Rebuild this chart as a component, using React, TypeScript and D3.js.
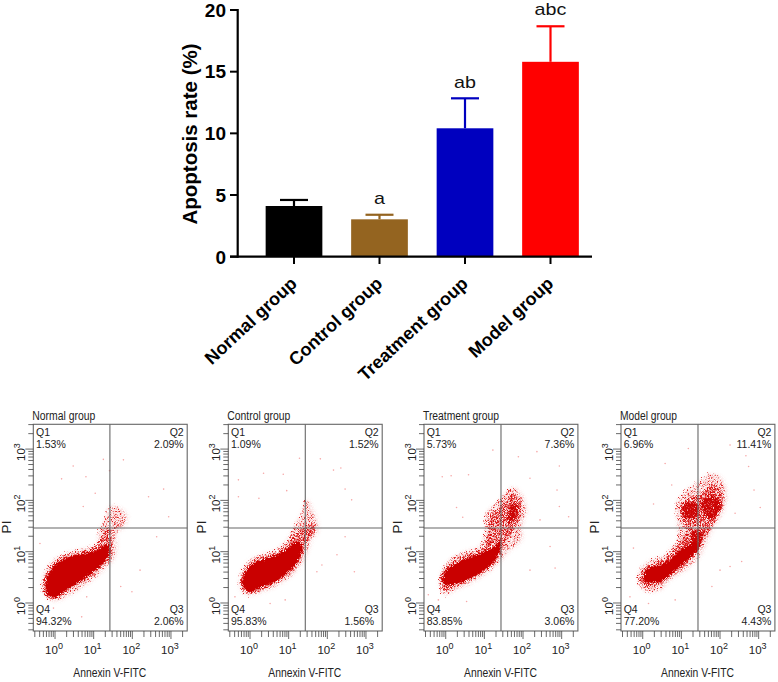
import React from "react";
import * as d3 from "d3";

// ---------- bar chart data ----------
const groups = ["Normal group", "Control group", "Treatment group", "Model group"];
const rates = [4.11, 3.03, 10.41, 15.8];
const errorTops = [4.6, 3.4, 12.84, 18.68];
const barColors = ["#000000", "#946420", "#0000bf", "#ff0000"];
const letters = ["", "a", "ab", "abc"];
const rateTicks = [0, 5, 10, 15, 20];

// ---------- flow cytometry data (log10 units, outlines of the point clouds) ----------
type P = [number, number];
const normalSparse: P[] = [[-.32,.25],[-.32,.45],[-.17,.71],[.04,.87],[.43,1],[.86,1.07],[1.08,1.16],[1.15,1.39],[1.3,1.65],[1.42,1.88],[1.68,1.85],[1.87,1.72],[1.81,1.49],[1.6,1.36],[1.61,1.1],[1.51,.84],[1.25,.64],[.91,.42],[.52,.22],[.13,.06],[-.13,.06]];
const normalMid: P[] = [[-.28,.29],[-.28,.45],[-.15,.66],[.06,.83],[.43,.96],[.84,1.02],[1.12,1.16],[1.27,1.36],[1.42,1.46],[1.49,1.16],[1.47,.9],[1.21,.71],[.86,.48],[.43,.29],[.04,.09],[-.17,.09]];
const normalCore: P[] = [[-.22,.19],[-.23,.38],[-.13,.61],[.04,.77],[.39,.9],[.73,.96],[1.08,1.03],[1.36,1.15],[1.41,.96],[1.23,.77],[.95,.58],[.6,.4],[.26,.24],[0,.11]];
const normalSpecks: P[] = [[1.25,2.8],[1.77,2.79],[.47,2.67],[.17,2.42],[.8,2.46],[1.04,2.14],[1.41,2.58],[2.81,2.22],[2.42,2.07],[2.63,1.29],[2.2,.64],[1.99,.22],[1.7,.32],[.82,.12],[.69,-.27],[-.04,-.1],[2.94,1.68],[-.39,1.16],[.73,1.88]];

const controlSparse: P[] = [[-.26,.32],[-.22,.58],[-.04,.81],[.3,.94],[.65,1.03],[.95,1.2],[1.08,1.39],[1.34,1.75],[1.47,2.01],[1.68,1.72],[1.77,1.42],[1.6,1.23],[1.51,1.03],[1.34,.77],[1.04,.51],[.65,.32],[.22,.19],[-.09,.16]];
const controlMid: P[] = [[-.22,.32],[-.2,.53],[-.03,.76],[.3,.89],[.69,.98],[.99,1.15],[1.17,1.33],[1.47,1.52],[1.68,1.49],[1.6,1.29],[1.42,1.13],[1.32,.84],[1.04,.57],[.65,.37],[.26,.24],[-.04,.18]];
const controlCore: P[] = [[-.17,.32],[-.19,.48],[0,.72],[.3,.84],[.69,.94],[.99,1.07],[1.25,1.2],[1.36,1.1],[1.25,.84],[.99,.61],[.65,.42],[.3,.32],[0,.22]];
const controlSpecks: P[] = [[1.28,2.82],[1.82,2.81],[2.16,2.59],[2.35,2.63],[.86,2.51],[.35,2.53],[-.3,2.4],[-.3,2.07],[.23,2.04],[.95,2.19],[2.46,2.22],[2.63,2.01],[2.7,.61],[2.25,.94],[1.86,.74],[1.73,.61],[.91,.06],[.52,-.01],[-.39,.12],[2.46,1.29]];

const treatmentSparse: P[] = [[-.15,.35],[-.1,.61],[.11,.84],[.5,1],[.89,1.1],[1.02,1.36],[1.06,1.75],[1.32,1.94],[1.54,2.14],[1.75,2.25],[1.97,2.11],[2.1,1.81],[1.97,1.49],[1.97,1.23],[1.58,.97],[1.45,.84],[1.06,.58],[.63,.38],[.24,.25],[-.02,.16]];
const treatmentMid: P[] = [[-.1,.38],[-.08,.61],[.24,.83],[.63,.96],[.98,1.07],[1.11,1.36],[1.15,1.68],[1.32,1.81],[1.54,1.94],[1.75,2.14],[1.94,2.01],[1.97,1.75],[1.84,1.52],[1.71,1.36],[1.54,1.16],[1.41,.9],[1.06,.63],[.63,.44],[.24,.31],[-.02,.24]];
const treatmentCore: P[] = [[-.06,.38],[-.02,.61],[.28,.77],[.67,.9],[1.02,1],[1.28,1.1],[1.41,1.23],[1.42,1.07],[1.28,.84],[.98,.64],[.63,.48],[.28,.38],[.03,.35]];
const treatmentBlob: P[] = [[1.62,1.72],[1.75,1.94],[1.88,1.91],[1.84,1.72],[1.71,1.59],[1.58,1.59]];
const treatmentSpecks: P[] = [[1.22,2.98],[2.36,2.95],[1.88,2.85],[2.94,2.67],[-.09,2.46],[.14,2.48],[.59,2.5],[2.18,2.43],[2.88,2.2],[2.94,1.88],[.28,1.86],[.44,1.67],[2.7,1.1],[2.18,.64],[2.83,.68],[-.19,.06],[.54,.03],[-.45,.16],[3.18,1.68],[2.44,1.62]];

const modelSparse: P[] = [[-.11,.42],[-.07,.64],[.23,.84],[.54,.9],[.75,1.07],[.92,1.23],[.88,1.68],[.88,1.94],[1.14,2.2],[1.4,2.33],[1.74,2.51],[2.05,2.43],[2.18,2.04],[2.05,1.72],[1.83,1.46],[1.57,1.03],[1.44,.87],[1.1,.64],[.71,.45],[.45,.25],[.1,.22],[-.07,.32]];
const modelMid: P[] = [[-.05,.45],[.02,.64],[.32,.79],[.58,.85],[.79,1.03],[1.01,1.2],[1.14,1.42],[1.01,1.68],[1.01,1.91],[1.27,2.07],[1.53,2.11],[1.74,2.3],[2,2.24],[2.09,1.94],[1.92,1.68],[1.79,1.46],[1.53,1.2],[1.4,1],[1.1,.74],[.71,.51],[.36,.33],[.06,.33]];
const modelCore: P[] = [[.02,.51],[.15,.68],[.45,.74],[.71,.84],[.92,1],[1.18,1.13],[1.4,1.2],[1.47,1.07],[1.31,.94],[1.05,.77],[.79,.61],[.54,.45],[.23,.4],[.06,.42]];
const modelBlob: P[] = [[1.53,1.94],[1.74,2.07],[1.96,2.04],[2.05,1.88],[1.92,1.72],[1.79,1.62],[1.61,1.72]];
const modelLeftBlob: P[] = [[1.05,1.88],[1.31,1.98],[1.44,1.88],[1.4,1.68],[1.18,1.65],[1.05,1.72]];
const modelNeck: P[] = [[1.3,1.42],[1.58,1.4],[1.62,1.6],[1.48,1.1],[1.3,1.1]];
const modelSpecks: P[] = [[1.18,3.01],[2.26,3.08],[2.67,2.87],[.58,2.72],[.28,1.93],[.75,2.3],[2.88,2.2],[3.04,1.86],[2.39,1.75],[2.56,.81],[2,.64],[1.79,.32],[.84,.06],[-.33,.12],[-.24,1.07],[.15,-.01],[2.74,2.66],[2.26,.71]];

const panelFrameLefts = [33.3, 228.3, 424, 621];
const panelCrossX = [1.42, 1.43, 1.43, 1.43]; // log10 position of vertical gate
const q1 = ["1.53%", "1.09%", "5.73%", "6.96%"];
const q2 = ["2.09%", "1.52%", "7.36%", "11.41%"];
const q3 = ["2.06%", "1.56%", "3.06%", "4.43%"];
const q4 = ["94.32%", "95.83%", "83.85%", "77.20%"];
const sparseClouds = [normalSparse, controlSparse, treatmentSparse, modelSparse];
const midClouds = [normalMid, controlMid, treatmentMid, modelMid];
const coreClouds = [[normalCore], [controlCore], [treatmentCore], [modelCore]];
const denseClouds: P[][][] = [[], [], [treatmentBlob], [modelBlob, modelLeftBlob, modelNeck]];
const speckClouds = [normalSpecks, controlSpecks, treatmentSpecks, modelSpecks];
const decades = [-1, 0, 1, 2, 3];
const minorSteps = [1, 2, 3, 4, 5, 6, 7, 8, 9];

const SANS = "'Liberation Sans', Arial, sans-serif";
const NARROW = "'Liberation Sans Narrow', 'Liberation Sans', Arial, sans-serif";

function Panel({ index }: { index: number }) {
  const left = panelFrameLefts[index];
  const width = 153.9;
  const top = 424.3;
  const bottom = 631;
  const x = d3.scaleLinear().domain([-0.562, 3.42]).range([left, left + width]);
  const y = d3.scaleLinear().domain([-0.546, 3.483]).range([bottom, top]);
  const shape = d3
    .line<P>()
    .x((d) => x(d[0]))
    .y((d) => y(d[1]))
    .curve(d3.curveCatmullRomClosed.alpha(0.5));
  const logTicks: { v: number; major: boolean }[] = [];
  decades.forEach((d) =>
    minorSteps.forEach((m) => {
      const v = d + Math.log10(m);
      logTicks.push({ v, major: m === 1 });
    })
  );
  const xTicks = logTicks.filter((t) => t.v >= -0.562 && t.v <= 3.42);
  const yTicks = logTicks.filter((t) => t.v >= -0.546 && t.v <= 3.483);
  const clip = `clip-${index}`;
  const axisGray = "#444";
  return (
    <g>
      <clipPath id={clip}>
        <rect x={left} y={top} width={width} height={bottom - top} />
      </clipPath>
      <g clipPath={`url(#${clip})`}>
        <path d={shape(sparseClouds[index]) || ""} fill="#f3a0a0" opacity={0.45} filter="url(#soft)" />
        <path d={shape(sparseClouds[index]) || ""} fill="#e02020" filter="url(#grainSparse)" />
        <path d={shape(midClouds[index]) || ""} fill="#d81010" filter="url(#grainMid)" />
        {denseClouds[index].map((c, i) => (
          <path key={i} d={shape(c) || ""} fill="#cc0404" filter="url(#grainDense)" />
        ))}
        {coreClouds[index].map((c, i) => (
          <path key={i} d={shape(c) || ""} fill="#c90000" filter="url(#rough)" />
        ))}
        {speckClouds[index].map((p, i) => (
          <circle key={i} cx={x(p[0])} cy={y(p[1])} r={0.8} fill="#f6a8a8" />
        ))}
      </g>
      <rect x={left} y={top} width={width} height={bottom - top} fill="none" stroke="#666" strokeWidth={1.1} />
      <line x1={x(panelCrossX[index])} x2={x(panelCrossX[index])} y1={top} y2={bottom} stroke="#666" strokeWidth={1.1} />
      <line x1={left} x2={left + width} y1={528} y2={528} stroke="#666" strokeWidth={1.1} />
      {xTicks.map((t, i) => (
        <line key={i} x1={x(t.v)} x2={x(t.v)} y1={bottom} y2={bottom + (t.major ? 8 : 6)} stroke={axisGray} strokeWidth={0.8} />
      ))}
      {yTicks.map((t, i) => (
        <line key={i} x1={left} x2={left - (t.major ? 8 : 5)} y1={y(t.v)} y2={y(t.v)} stroke={axisGray} strokeWidth={0.8} />
      ))}
      {[0, 1, 2, 3].map((d) => (
        <text key={d} x={x(d) - 1} y={654} textAnchor="middle" fontFamily={NARROW} fontSize={11.5} fill="#222">
          10<tspan dy={-5} fontSize={9}>{d}</tspan>
        </text>
      ))}
      {[0, 1, 2, 3].map((d) => (
        <text key={d} transform={`translate(${left - 8.5},${y(d) + 3}) rotate(-90)`} textAnchor="middle" fontFamily={NARROW} fontSize={11.5} fill="#222">
          10<tspan dy={-5} fontSize={9}>{d}</tspan>
        </text>
      ))}
      <text x={left - 1} y={420} fontFamily={NARROW} fontSize={12.5} fill="#222" textLength={index === 2 ? 76 : index === 3 ? 57 : 63} lengthAdjust="spacingAndGlyphs">
        {groups[index]}
      </text>
      <text x={left + 76.5} y={676.5} textAnchor="middle" fontFamily={NARROW} fontSize={13} fill="#222" textLength={73} lengthAdjust="spacingAndGlyphs">
        Annexin V-FITC
      </text>
      <text transform={`translate(${left - 22},527) rotate(-90)`} textAnchor="middle" fontFamily={SANS} fontSize={13.5} fill="#222">
        PI
      </text>
      <g fontFamily={NARROW} fontSize={10.5} fill="#222">
        <text x={left + 2.7} y={436}>Q1</text>
        <text x={left + 2.7} y={447.5}>{q1[index]}</text>
        <text x={left + 2.7} y={613}>Q4</text>
        <text x={left + 2.7} y={624.5}>{q4[index]}</text>
        <text x={left + width - 3.5} y={436} textAnchor="end">Q2</text>
        <text x={left + width - 3.5} y={447.5} textAnchor="end">{q2[index]}</text>
        <text x={left + width - 3.5} y={613} textAnchor="end">Q3</text>
        <text x={left + width - (index === 1 ? 8 : 3.5)} y={624.5} textAnchor="end">{q3[index]}</text>
      </g>
    </g>
  );
}

export default function App() {
  const yScale = d3.scaleLinear().domain([0, 20]).range([256.7, 10]);
  const xScale = d3.scalePoint<string>().domain(groups).range([294, 550.5]);
  const barW = 56.7;
  const capW = 28;
  const axisX = 237.7;
  return (
    <svg width={778} height={682} viewBox="0 0 778 682" style={{ position: "absolute", left: 0, top: 0, background: "#fff" }}>
      <defs>
        <filter id="soft" x="-15%" y="-15%" width="130%" height="130%" colorInterpolationFilters="sRGB">
          <feTurbulence type="fractalNoise" baseFrequency="1.3" numOctaves={1} seed={6} result="n" />
          <feGaussianBlur in="SourceGraphic" stdDeviation={2.2} result="b" />
          <feColorMatrix in="n" type="matrix" values="0 0 0 0 0  0 0 0 0 0  0 0 0 0 0  4 0 0 0 -1.3" result="m" />
          <feComposite in="b" in2="m" operator="in" />
          <feGaussianBlur stdDeviation={0.35} />
        </filter>
        <filter id="grainSparse" x="-10%" y="-10%" width="120%" height="120%" colorInterpolationFilters="sRGB">
          <feTurbulence type="fractalNoise" baseFrequency="1.3" numOctaves={2} seed={4} result="n" />
          <feDisplacementMap in="SourceGraphic" in2="n" scale={9} xChannelSelector="R" yChannelSelector="G" result="d" />
          <feColorMatrix in="n" type="matrix" values="0 0 0 0 0  0 0 0 0 0  0 0 0 0 0  5 0 0 0 -2.6" result="m" />
          <feComposite in="d" in2="m" operator="in" />
          <feGaussianBlur stdDeviation={0.4} />
        </filter>
        <filter id="grainMid" x="-10%" y="-10%" width="120%" height="120%" colorInterpolationFilters="sRGB">
          <feTurbulence type="fractalNoise" baseFrequency="1.3" numOctaves={2} seed={9} result="n" />
          <feDisplacementMap in="SourceGraphic" in2="n" scale={7} xChannelSelector="R" yChannelSelector="G" result="d" />
          <feColorMatrix in="n" type="matrix" values="0 0 0 0 0  0 0 0 0 0  0 0 0 0 0  5 0 0 0 -2.1" result="m" />
          <feComposite in="d" in2="m" operator="in" />
          <feGaussianBlur stdDeviation={0.4} />
        </filter>
        <filter id="grainDense" x="-15%" y="-15%" width="130%" height="130%" colorInterpolationFilters="sRGB">
          <feTurbulence type="fractalNoise" baseFrequency="1.3" numOctaves={2} seed={13} result="n" />
          <feDisplacementMap in="SourceGraphic" in2="n" scale={8} xChannelSelector="R" yChannelSelector="G" result="d" />
          <feColorMatrix in="n" type="matrix" values="0 0 0 0 0  0 0 0 0 0  0 0 0 0 0  5 0 0 0 -1.4" result="m" />
          <feComposite in="d" in2="m" operator="in" />
          <feGaussianBlur stdDeviation={0.4} />
        </filter>
        <filter id="rough" x="-10%" y="-10%" width="120%" height="120%" colorInterpolationFilters="sRGB">
          <feTurbulence type="fractalNoise" baseFrequency="0.9" numOctaves={2} seed={2} result="n" />
          <feDisplacementMap in="SourceGraphic" in2="n" scale={6} xChannelSelector="R" yChannelSelector="G" />
          <feGaussianBlur stdDeviation={0.5} />
        </filter>
      </defs>

      {/* bar chart */}
      {groups.map((g, i) => {
        const cx = xScale(g) as number;
        return (
          <g key={g}>
            <line x1={cx} x2={cx} y1={yScale(rates[i])} y2={yScale(errorTops[i])} stroke={barColors[i]} strokeWidth={2.2} />
            <line x1={cx - capW / 2} x2={cx + capW / 2} y1={yScale(errorTops[i])} y2={yScale(errorTops[i])} stroke={barColors[i]} strokeWidth={2.2} />
            <rect x={cx - barW / 2} y={yScale(rates[i])} width={barW} height={yScale(0) - yScale(rates[i])} fill={barColors[i]} />
            {letters[i] && (
              <text transform={`translate(${cx},${yScale(errorTops[i]) - 10.8}) scale(1.16,1)`} textAnchor="middle" fontFamily={SANS} fontSize={17} fill="#111">
                {letters[i]}
              </text>
            )}
            <line x1={cx} x2={cx} y1={256.7} y2={264} stroke="#000" strokeWidth={2} />
            <text transform={`translate(${cx + 4},285) rotate(-43)`} textAnchor="end" fontFamily={SANS} fontWeight="bold" fontSize={18} fill="#000">
              {g}
            </text>
          </g>
        );
      })}
      <line x1={axisX} x2={axisX} y1={yScale(20) - 1} y2={yScale(0) + 1} stroke="#000" strokeWidth={2.2} />
      <line x1={230} x2={592} y1={yScale(0)} y2={yScale(0)} stroke="#000" strokeWidth={2.2} />
      {rateTicks.map((t) => (
        <g key={t}>
          <line x1={230} x2={axisX} y1={yScale(t)} y2={yScale(t)} stroke="#000" strokeWidth={2} />
          <text x={226} y={yScale(t) + 6.8} textAnchor="end" fontFamily={SANS} fontWeight="bold" fontSize={19} fill="#000">
            {t}
          </text>
        </g>
      ))}
      <text transform="translate(197,134) rotate(-90)" textAnchor="middle" fontFamily={SANS} fontWeight="bold" fontSize={20.5} fill="#000">
        Apoptosis rate (%)
      </text>

      {panelFrameLefts.map((_, i) => (
        <Panel key={i} index={i} />
      ))}
    </svg>
  );
}
